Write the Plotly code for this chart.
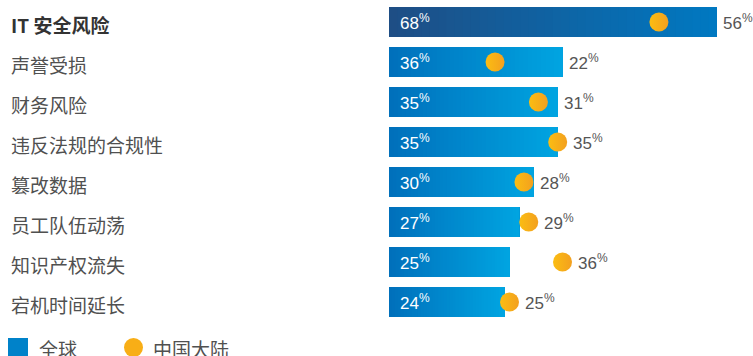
import plotly.graph_objects as go

categories = ["IT 安全风险", "声誉受损", "财务风险", "违反法规的合规性", "篡改数据", "员工队伍动荡", "知识产权流失", "宕机时间延长"]
global_vals = [68, 36, 35, 35, 30, 27, 25, 24]
china_vals = [56, 22, 31, 35, 28, 29, 36, 25]
legend_labels = ["全球", "中国大陆"]

W, H = 753, 356
L, R, T, B = 389, 0, 2, 34
PW, PH = W - L - R, H - T - B


def px2x(p):
    return (p - L) / PW


def py2y(p):
    return (H - B - p) / PH


def lerp(c1, c2, t):
    a = [int(c1[i:i + 2], 16) for i in (1, 3, 5)]
    b = [int(c2[i:i + 2], 16) for i in (1, 3, 5)]
    return "rgb(%d,%d,%d)" % tuple(round(a[k] + (b[k] - a[k]) * t) for k in range(3))


grad_first = ("#1e4e85", "#0078c1")
grad_other = ("#0070bb", "#00a4e1")

fig = go.Figure()
N = 40
for i in range(N):
    t = i / (N - 1)
    bases = [g * i / N for g in global_vals]
    widths = [g - b for g, b in zip(global_vals, bases)]
    cols = [lerp(*(grad_first if k == 0 else grad_other), t) for k in range(len(categories))]
    fig.add_trace(go.Bar(
        y=categories, x=widths, base=bases, orientation="h", width=0.75,
        marker=dict(color=cols, line=dict(width=0)),
        hoverinfo="skip", showlegend=False,
    ))

fig.add_trace(go.Scatter(
    y=categories, x=china_vals, mode="markers",
    marker=dict(size=19, color="#fbbd12", line=dict(width=0),
                gradient=dict(type="horizontal", color="#f3a01f")),
    hoverinfo="skip", showlegend=False, cliponaxis=False,
))

num_font = dict(family="Liberation Sans, Arial, sans-serif", size=17, weight=400)


def pct(v):
    return "%d<sup><span style='font-size:12px'>%%</span></sup>" % v


for k, (cat, g, c) in enumerate(zip(categories, global_vals, china_vals)):
    fig.add_annotation(
        x=px2x(9), xref="paper", y=cat, yref="y", yshift=-2, yanchor="middle",
        text=("<b>%s</b>" % cat) if k == 0 else cat,
        showarrow=False, xanchor="left",
        font=dict(family="Noto Sans CJK SC", size=19, color="#333333" if k == 0 else "#505050"),
    )
    fig.add_annotation(
        x=0, y=cat, xshift=9, yanchor="middle", text=pct(g), showarrow=False,
        xanchor="left", font=dict(num_font, color="white"),
    )
    fig.add_annotation(
        x=max(g, c + 2.0), y=cat, xshift=4, yanchor="middle", text=pct(c),
        showarrow=False, xanchor="left", font=dict(num_font, color="#555555"),
    )

# legend
fig.add_shape(type="rect", xref="paper", yref="paper",
              x0=px2x(8), x1=px2x(28), y0=py2y(338), y1=py2y(360),
              fillcolor="#0082c9", line=dict(width=0))
fig.add_annotation(x=px2x(37), xref="paper", y=py2y(348), yref="paper", yanchor="middle",
                   text=legend_labels[0], showarrow=False, xanchor="left",
                   font=dict(family="Noto Sans CJK SC", size=19, color="#505050"))
fig.add_shape(type="circle", xref="paper", yref="paper",
              x0=px2x(124), x1=px2x(143), y0=py2y(338), y1=py2y(357),
              fillcolor="#f8ae16", line=dict(width=0))
fig.add_annotation(x=px2x(151), xref="paper", y=py2y(348), yref="paper", yanchor="middle",
                   text=legend_labels[1], showarrow=False, xanchor="left",
                   font=dict(family="Noto Sans CJK SC", size=19, color="#505050"))

fig.update_layout(
    width=W, height=H, margin=dict(l=L, r=R, t=T, b=B),
    barmode="overlay", plot_bgcolor="white", paper_bgcolor="white",
    xaxis=dict(range=[0, PW / 4.82], visible=False, fixedrange=True),
    yaxis=dict(range=[7.5, -0.5], visible=False, fixedrange=True, type="category"),
    showlegend=False,
)

fig.write_html("out.html")
